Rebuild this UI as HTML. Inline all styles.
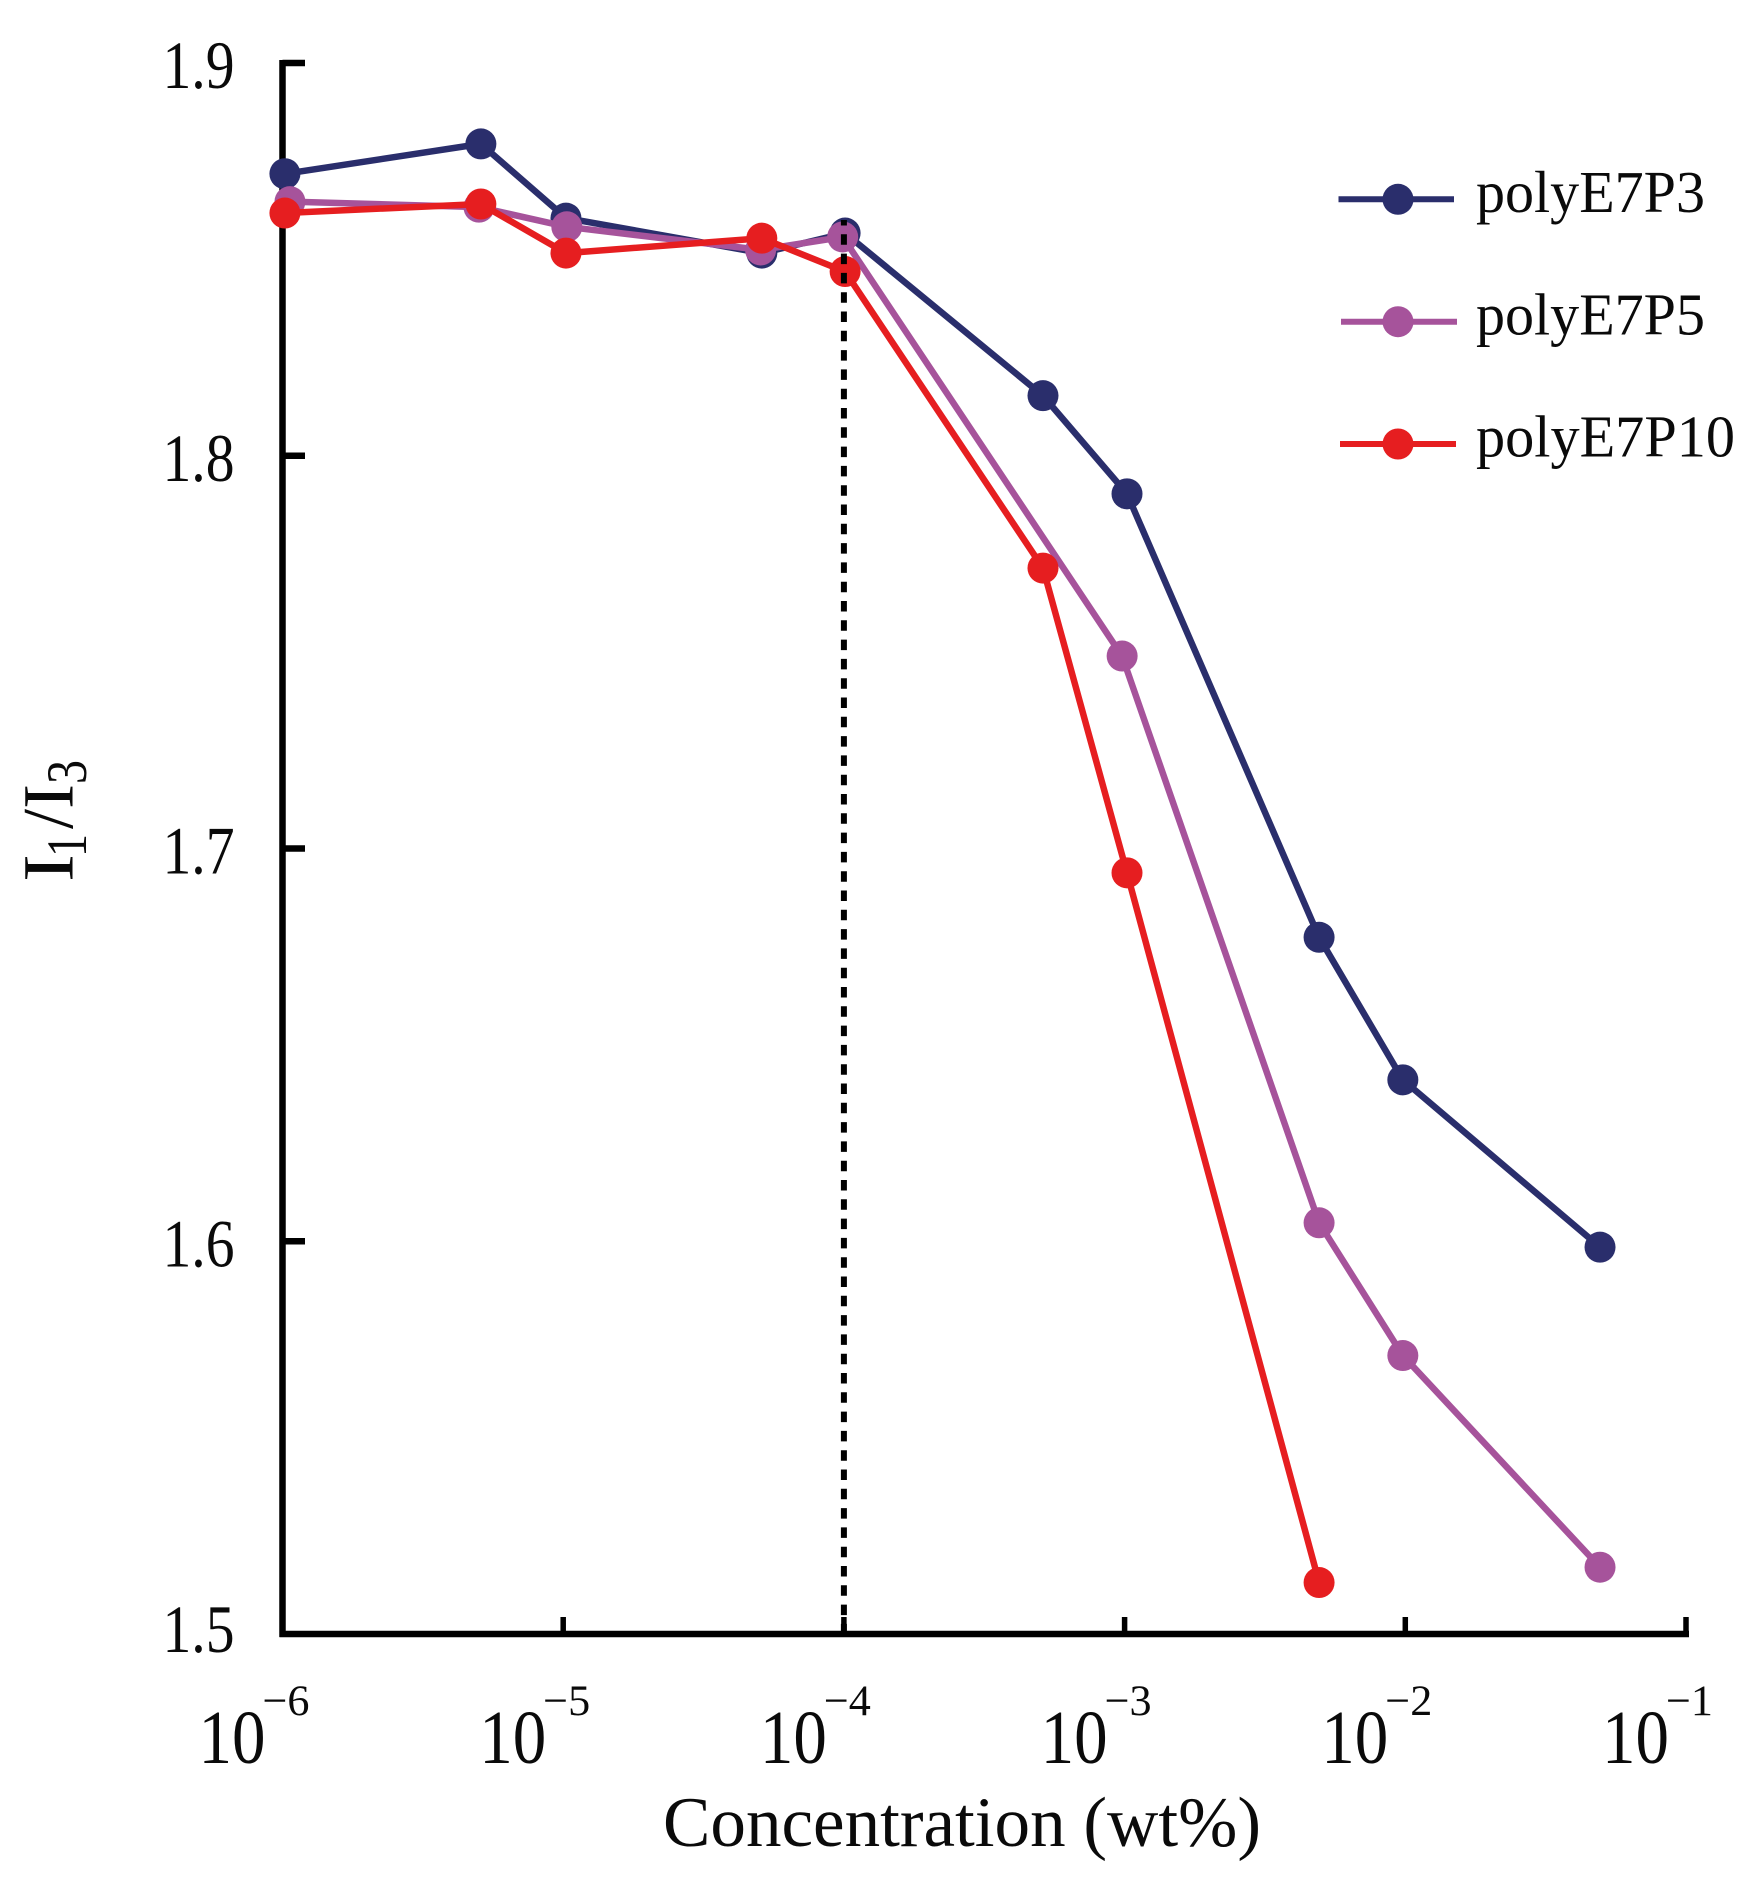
<!DOCTYPE html>
<html lang="en">
<head>
<meta charset="utf-8">
<title>I1/I3 versus concentration</title>
<style>
html,body{margin:0;padding:0;background:#fff;}
svg{display:block;}
text{font-family:"Liberation Serif",serif;fill:#0a0a0a;}
</style>
</head>
<body>
<svg id="chart" xmlns="http://www.w3.org/2000/svg" width="1764" height="1892" viewBox="0 0 1764 1892">
  <rect x="0" y="0" width="1764" height="1892" fill="#ffffff"/>
  <g id="axes"></g>
  <g id="series"></g>
  <g id="guide"></g>

  <g>
    <text transform="translate(72.5,882) rotate(-90)" font-size="72" textLength="28" lengthAdjust="spacingAndGlyphs">I</text>
    <text transform="translate(86,857) rotate(-90)" font-size="57" textLength="23" lengthAdjust="spacingAndGlyphs">1</text>
    <text transform="translate(72.5,829) rotate(-90)" font-size="72" textLength="20" lengthAdjust="spacingAndGlyphs">/</text>
    <text transform="translate(72.5,809) rotate(-90)" font-size="72" textLength="25" lengthAdjust="spacingAndGlyphs">I</text>
    <text transform="translate(86,784) rotate(-90)" font-size="57" textLength="24" lengthAdjust="spacingAndGlyphs">3</text>
  </g>
  <text x="663" y="1846" font-size="71" textLength="598" lengthAdjust="spacingAndGlyphs">Concentration (wt%)</text>

  <g>
    <g>
      <line x1="1338.5" y1="199.3" x2="1454" y2="199.3" stroke="#2a2e6c" stroke-width="6"/>
      <circle cx="1398" cy="199.3" r="15.5" fill="#2a2e6c"/>
      <text x="1476" y="212" font-size="59" textLength="229" lengthAdjust="spacingAndGlyphs">polyE7P3</text>
    </g>
    <g>
      <line x1="1341" y1="321.7" x2="1457" y2="321.7" stroke="#a6539b" stroke-width="6"/>
      <circle cx="1398" cy="321.7" r="15.5" fill="#a6539b"/>
      <text x="1476" y="334.5" font-size="59" textLength="229" lengthAdjust="spacingAndGlyphs">polyE7P5</text>
    </g>
    <g>
      <line x1="1340" y1="444" x2="1456" y2="444" stroke="#e61e20" stroke-width="6"/>
      <circle cx="1398" cy="444" r="15.5" fill="#e61e20"/>
      <text x="1476" y="456.5" font-size="59" textLength="259" lengthAdjust="spacingAndGlyphs">polyE7P10</text>
    </g>
  </g>
</svg>
<script>
// Chart data
const yTicks = [1.9, 1.8, 1.7, 1.6, 1.5];
const yTickLabels = ["1.9", "1.8", "1.7", "1.6", "1.5"];
const xTickExponents = [-6, -5, -4, -3, -2, -1];
const guideConcentration = [1e-4];

const concP3 = [1.02e-6, 5.09e-6, 1.023e-5, 5.1e-5, 1.01e-4, 5.12e-4, 1.02e-3, 4.93e-3, 9.8e-3, 4.94e-2];
const valuesP3 = [1.8718, 1.8794, 1.8605, 1.8516, 1.8567, 1.8153, 1.7903, 1.6774, 1.6411, 1.5985];

const concP5 = [1.063e-6, 5.01e-6, 1.03e-5, 5.05e-5, 9.9e-5, 9.8e-4, 4.93e-3, 9.8e-3, 4.94e-2];
const valuesP5 = [1.8647, 1.8633, 1.8583, 1.8524, 1.8557, 1.749, 1.6047, 1.5709, 1.517];

const concP10 = [1.02e-6, 5.09e-6, 1.023e-5, 5.1e-5, 1.01e-4, 5.12e-4, 1.02e-3, 4.93e-3];
const valuesP10 = [1.8618, 1.8641, 1.8516, 1.8554, 1.8469, 1.7714, 1.6938, 1.5131];

const NS = "http://www.w3.org/2000/svg";
function xScale(c) { return 282.5 + (Math.log10(c) + 6) * 280.7; }
function yScale(v) { return 63 + (1.9 - v) * 3927.5; }
function make(tag, attrs) {
  const el = document.createElementNS(NS, tag);
  for (const k in attrs) el.setAttribute(k, attrs[k]);
  return el;
}

const axes = document.getElementById("axes");
const yAxisLine = make("line", {x1: 282.5, y1: yScale(1.9) - 3, x2: 282.5, y2: yScale(1.5) + 3, stroke: "#000", "stroke-width": 6.5});


axes.appendChild(yAxisLine);
const xAxisLine = make("line", {x1: 279.5, y1: yScale(1.5), x2: xScale(1e-1) + 3, y2: yScale(1.5), stroke: "#000", "stroke-width": 6.5});


axes.appendChild(xAxisLine);

yTicks.forEach(function (v, i) {
  const y = yScale(v);
  if (v !== 1.5) {
    const tick = make("line", {x1: 282.5, y1: y, x2: 305, y2: y, stroke: "#000", "stroke-width": 6.5});
    
    
    axes.appendChild(tick);
  }
  const label = make("text", {x: 162.5, y: y + (v === 1.5 ? 18 : 25), "font-size": 68, textLength: 72, lengthAdjust: "spacingAndGlyphs"});
  label.textContent = yTickLabels[i];
  
  
  axes.appendChild(label);
});

xTickExponents.forEach(function (e) {
  const x = xScale(Math.pow(10, e));
  if (e !== -6) {
    const tick = make("line", {x1: x, y1: 1617, x2: x, y2: yScale(1.5), stroke: "#000", "stroke-width": 5.5});
    
    
    axes.appendChild(tick);
  }
  const base = make("text", {x: x - 84, y: 1763, "font-size": 76, textLength: 67, lengthAdjust: "spacingAndGlyphs"});
  base.textContent = "10";
  
  
  axes.appendChild(base);
  const sup = make("text", {x: x - 20, y: 1715, "font-size": 43, textLength: 47, lengthAdjust: "spacingAndGlyphs"});
  sup.textContent = "\u2212" + Math.abs(e);
  
  
  axes.appendChild(sup);
});

function drawSeries(name, color, conc, values) {
  const group = make("g", {});
  
  
  const pts = values.map(function (v, i) { return xScale(conc[i]).toFixed(1) + "," + yScale(v).toFixed(1); });
  const line = make("polyline", {points: pts.join(" "), fill: "none", stroke: color, "stroke-width": 6.5, "stroke-linejoin": "round"});
  
  
  group.appendChild(line);
  values.forEach(function (v, i) {
    const dot = make("circle", {cx: xScale(conc[i]), cy: yScale(v), r: 15.5, fill: color});
    
    
    group.appendChild(dot);
  });
  document.getElementById("series").appendChild(group);
}
drawSeries("series-polye7p3", "#2a2e6c", concP3, valuesP3);
drawSeries("series-polye7p5", "#a6539b", concP5, valuesP5);
drawSeries("series-polye7p10", "#e61e20", concP10, valuesP10);

const guide = make("line", {x1: xScale(guideConcentration[0]), y1: 220, x2: xScale(guideConcentration[0]), y2: yScale(1.5), stroke: "#000", "stroke-width": 6, "stroke-dasharray": "10.5 8.8", "stroke-dashoffset": 5});


document.getElementById("guide").appendChild(guide);
</script>
</body>
</html>
